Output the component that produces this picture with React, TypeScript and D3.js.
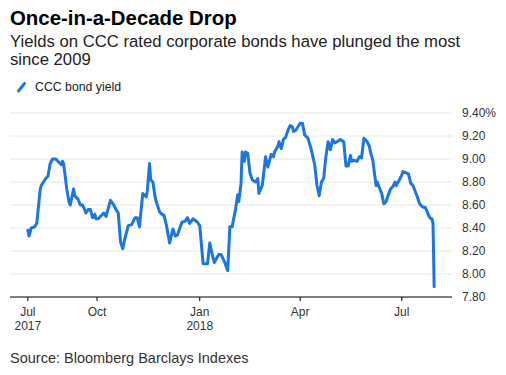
import React from "react";
import * as d3 from "d3";

const dates: string[] = [
  "2017-07-31","2017-08-01","2017-08-03","2017-08-06","2017-08-08","2017-08-11","2017-08-12","2017-08-14","2017-08-16","2017-08-18",
  "2017-08-20","2017-08-22","2017-08-25","2017-08-28","2017-08-30","2017-08-31","2017-09-01","2017-09-04","2017-09-06","2017-09-07",
  "2017-09-10","2017-09-11","2017-09-13","2017-09-14","2017-09-16","2017-09-18","2017-09-19","2017-09-21","2017-09-23","2017-09-25",
  "2017-09-27","2017-09-29","2017-09-30","2017-10-02","2017-10-04","2017-10-07","2017-10-09","2017-10-11","2017-10-13","2017-10-16",
  "2017-10-18","2017-10-20","2017-10-22","2017-10-24","2017-10-26","2017-10-29","2017-11-01","2017-11-04","2017-11-06","2017-11-08",
  "2017-11-10","2017-11-11","2017-11-14","2017-11-15","2017-11-17","2017-11-18","2017-11-20","2017-11-22","2017-11-23","2017-11-26",
  "2017-11-28","2017-11-30","2017-12-02","2017-12-05","2017-12-08","2017-12-10","2017-12-12","2017-12-16","2017-12-19","2017-12-21",
  "2017-12-23","2017-12-26","2017-12-30","2018-01-01","2018-01-04","2018-01-08","2018-01-10","2018-01-12","2018-01-14","2018-01-18",
  "2018-01-20","2018-01-23","2018-01-26","2018-01-28","2018-01-30","2018-02-02","2018-02-04","2018-02-05","2018-02-07","2018-02-08",
  "2018-02-10","2018-02-11","2018-02-13","2018-02-15","2018-02-17","2018-02-20","2018-02-22","2018-02-23","2018-02-26","2018-02-27",
  "2018-03-01","2018-03-03","2018-03-06","2018-03-08","2018-03-09","2018-03-12","2018-03-13","2018-03-15","2018-03-17","2018-03-19",
  "2018-03-21","2018-03-23","2018-03-25","2018-03-26","2018-03-28","2018-03-30","2018-04-01","2018-04-03","2018-04-05","2018-04-08",
  "2018-04-11","2018-04-14","2018-04-16","2018-04-18","2018-04-20","2018-04-22","2018-04-24","2018-04-26","2018-04-28","2018-04-30",
  "2018-05-02","2018-05-04","2018-05-07","2018-05-10","2018-05-12","2018-05-14","2018-05-16","2018-05-17","2018-05-19","2018-05-22",
  "2018-05-24","2018-05-26","2018-05-28","2018-05-31","2018-06-02","2018-06-03","2018-06-05","2018-06-08","2018-06-09","2018-06-11",
  "2018-06-13","2018-06-15","2018-06-17","2018-06-19","2018-06-21","2018-06-23","2018-06-25","2018-06-26","2018-06-29","2018-07-01",
  "2018-07-02","2018-07-05","2018-07-07","2018-07-09","2018-07-11","2018-07-13","2018-07-15","2018-07-17","2018-07-20","2018-07-22",
  "2018-07-23","2018-07-25","2018-07-27","2018-07-28","2018-07-29","2018-07-30"
];

const yields: number[] = [
  8.38,8.33,8.40,8.41,8.44,8.73,8.77,8.80,8.83,8.85,
  8.96,9.00,9.00,8.97,8.95,8.98,8.96,8.73,8.62,8.60,
  8.74,8.68,8.66,8.65,8.60,8.60,8.58,8.53,8.56,8.56,
  8.49,8.52,8.48,8.48,8.50,8.53,8.50,8.57,8.64,8.60,
  8.56,8.53,8.28,8.22,8.31,8.42,8.43,8.49,8.49,8.41,
  8.61,8.70,8.67,8.72,8.96,8.82,8.80,8.67,8.63,8.54,
  8.52,8.51,8.43,8.27,8.39,8.33,8.34,8.45,8.46,8.49,
  8.44,8.48,8.45,8.42,8.09,8.09,8.27,8.18,8.10,8.17,
  8.17,8.11,8.03,8.41,8.41,8.56,8.69,8.63,8.79,9.06,
  8.98,9.06,9.05,8.88,8.82,8.80,8.83,8.70,8.77,8.85,
  9.02,8.93,9.04,9.02,9.06,9.11,9.15,9.09,9.17,9.19,
  9.25,9.29,9.28,9.24,9.25,9.28,9.31,9.31,9.21,9.18,
  9.08,8.95,8.77,8.68,8.80,8.83,9.02,9.15,9.08,9.17,
  9.14,9.15,9.17,9.15,8.94,8.94,9.03,8.98,8.99,8.98,
  9.02,9.01,9.18,9.15,9.11,9.06,8.99,8.77,8.80,8.75,
  8.70,8.61,8.63,8.69,8.74,8.76,8.80,8.77,8.82,8.86,
  8.89,8.88,8.87,8.79,8.77,8.72,8.67,8.61,8.58,8.58,
  8.56,8.51,8.48,8.48,8.44,7.89
];

const xTickDates: string[] = ["2017-07-31", "2017-10-01", "2018-01-01", "2018-04-01", "2018-07-01"];
const xTickLabels: string[][] = [["Jul", "2017"], ["Oct"], ["Jan", "2018"], ["Apr"], ["Jul"]];
const yTicks: number[] = [7.8, 8.0, 8.2, 8.4, 8.6, 8.8, 9.0, 9.2, 9.4];

const title = "Once-in-a-Decade Drop";
const subtitleLines = ["Yields on CCC rated corporate bonds have plunged the most", "since 2009"];
const legendLabel = "CCC bond yield";
const source = "Source: Bloomberg Barclays Indexes";

const parse = d3.utcParse("%Y-%m-%d");

export default function App() {
  const W = 506, H = 375;
  const left = 10, right = 452, top = 113, bottom = 297;
  const blue = "#1b75e3";
  const font = "'Liberation Sans', Arial, Helvetica, sans-serif";

  const data = dates.map((d, i) => ({ date: parse(d) as Date, v: yields[i] }));
  const x = d3.scaleUtc()
    .domain([parse("2017-07-15") as Date, parse("2018-08-15") as Date])
    .range([left, right]);
  const y = d3.scaleLinear().domain([7.8, 9.4]).range([bottom, top]);
  const line = d3.line<{ date: Date; v: number }>()
    .x(d => x(d.date))
    .y(d => y(d.v));

  return (
    <div style={{ position: "absolute", left: 0, top: 0 }}>
      <svg width={W} height={H} style={{ display: "block", background: "#fff" }} fontFamily={font}>
        <text x={10} y={25} fontSize={20.4} fontWeight="bold" fill="#000">{title}</text>
        {subtitleLines.map((s, i) => (
          <text key={i} x={10} y={46.5 + i * 18} fontSize={16.7} fill="#222">{s}</text>
        ))}
        <line x1={18.5} y1={91} x2={24.5} y2={83.5} stroke={blue} strokeWidth={3} strokeLinecap="round" />
        <text x={35} y={90.5} fontSize={12.3} fill="#222">{legendLabel}</text>

        {yTicks.map((t, i) => (
          <g key={i}>
            {i > 0 && (
              <line x1={left} x2={right} y1={y(t)} y2={y(t)} stroke="#e8e8e8" strokeWidth={1} />
            )}
            <text x={462} y={y(t)} dy="0.35em" fontSize={12} fill="#333">
              {t.toFixed(2) + (i === yTicks.length - 1 ? "%" : "")}
            </text>
          </g>
        ))}

        <line x1={left} x2={right} y1={bottom} y2={bottom} stroke="#000" strokeWidth={1} />
        {xTickDates.map((d, i) => {
          const px = x(parse(d) as Date);
          return (
            <g key={i}>
              <line x1={px} x2={px} y1={bottom} y2={bottom + 4} stroke="#000" strokeWidth={1} />
              {xTickLabels[i].map((l, j) => (
                <text key={j} x={px} y={316 + j * 14} fontSize={12} textAnchor="middle" fill="#333">{l}</text>
              ))}
            </g>
          );
        })}

        <path d={line(data) || ""} fill="none" stroke={blue} strokeWidth={3} strokeLinejoin="round" strokeLinecap="round" />

        <text x={10} y={363} fontSize={14.5} fill="#333">{source}</text>
      </svg>
    </div>
  );
}
